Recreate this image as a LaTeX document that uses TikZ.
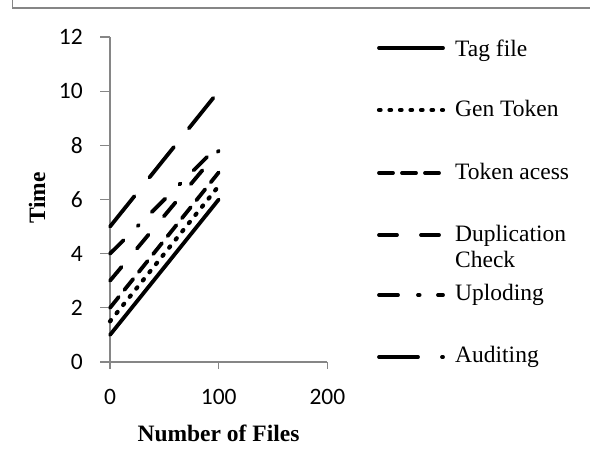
\documentclass[tikz,border=0pt]{standalone}
\usepackage{fontspec}
\setmainfont{Liberation Serif}
\newfontfamily\tickfont{Carlito}
\definecolor{axisgray}{RGB}{134,134,134}
\begin{document}
\begin{tikzpicture}[x=1pt,y=1pt,
  framerule/.style={draw=axisgray, line width=1.2pt},
  axisrule/.style={draw=axisgray, line width=1.1pt},
  series/.style={line width=3.8pt, line cap=round, draw=black},
  tagfile/.style={series},
  gentoken/.style={series, line width=4.2pt, dash pattern=on 1.6pt off 8.9pt},
  tokenacess/.style={series, dash pattern=on 14pt off 9pt},
  dupcheck/.style={series, dash pattern=on 18pt off 24pt},
  uploding/.style={series, dash pattern=on 19pt off 20pt on 1.6pt off 18.4pt},
  auditing/.style={series, dash pattern=on 39pt off 24pt},
  ticklab/.style={font=\tickfont\fontsize{23.5}{28}\selectfont, inner sep=0pt},
  legtext/.style={font=\fontsize{23.5}{26}\selectfont, inner sep=0pt, anchor=base west},
  axtitle/.style={font=\bfseries\fontsize{23.5}{28}\selectfont, inner sep=0pt}
]
\useasboundingbox (0,0) rectangle (590,449);

% outer frame (top and left edges)
\draw[framerule] (12.5,449) -- (12.5,441) -- (590,441);

% plot area: origin and scale
\begin{scope}[shift={(110,87)}, x=1.087pt, y=27.08pt]
  \coordinate (o) at (0,0);
  \coordinate (ytop) at (0,12);
  \coordinate (xend) at (200,0);
  \draw[axisrule] (ytop) -- (o) -- (xend);
  \foreach \v in {0,2,...,12} {
    \draw[axisrule] (0,\v) -- ++(-10pt,0);
    \node[ticklab, anchor=east] (yl\v) at ([xshift=-27pt]0,\v) {\v};
  }
  \foreach \u in {0,100,200} {
    \draw[axisrule] (\u,0) -- ++(0,-7pt);
    \node[ticklab, anchor=base] (xl\u) at ([yshift=-43pt]\u,0) {\u};
  }

  % data series
  \draw[tagfile]    (0,1)   -- (100,6);
  \draw[gentoken]   (0,1.5) -- (100,6.5);
  \draw[tokenacess] (0,2)   -- (100,7);
  \draw[dupcheck]   (0,3)   -- (100,7.8);
  \draw[uploding]   (0,4)   -- (100,8);
  \draw[auditing]   (0,5)   -- (100,10);
\end{scope}

% axis titles
\node[axtitle, rotate=90] (ytitle) at (37,251) {Time};
\node[axtitle, anchor=base] (xtitle) at (218.5,7) {Number of Files};

% legend
\draw[tagfile]    (379,401) -- (443,401);
\node[legtext] (l1) at (455,392) {Tag file};
\draw[gentoken]   (379,339) -- (443,339);
\node[legtext] (l2) at (455,332) {Gen Token};
\draw[tokenacess] (379,276) -- (443,276);
\node[legtext] (l3) at (455,269) {Token acess};
\draw[dupcheck]   (379,214) -- (443,214);
\node[legtext] (l4a) at (455,207) {Duplication};
\node[legtext] (l4b) at (455,181) {Check};
\draw[uploding]   (379,154) -- (443,154);
\node[legtext] (l5) at (455,148) {Uploding};
\draw[auditing]   (379,92)  -- (443,92);
\node[legtext] (l6) at (455,86) {Auditing};
\end{tikzpicture}
\end{document}
